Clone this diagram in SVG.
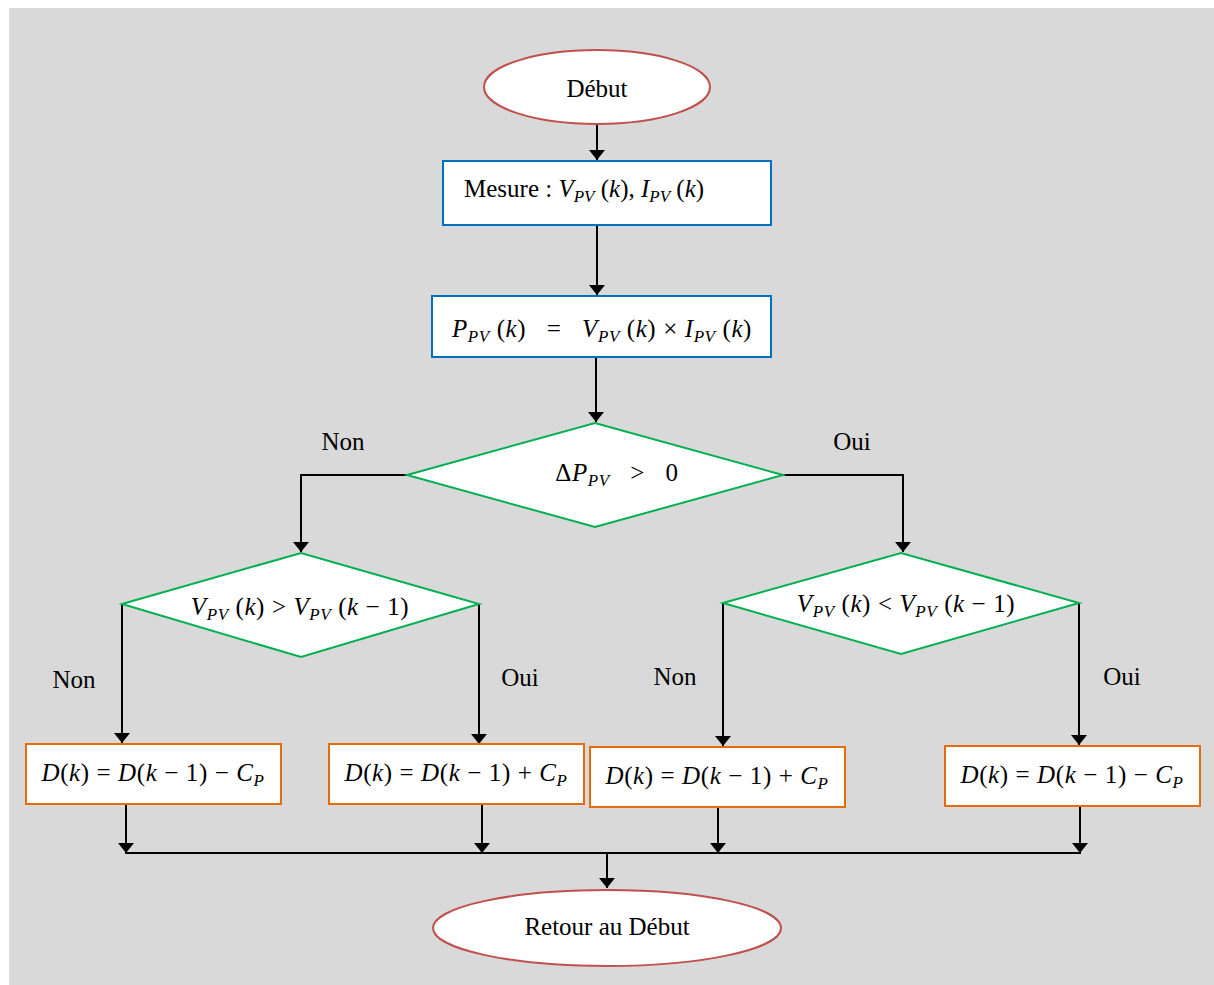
<svg xmlns="http://www.w3.org/2000/svg" width="1214" height="985" viewBox="0 0 1214 985">
<style>
.bg{fill:#d9d9d9}
.term{fill:#fff;stroke:#c0504d;stroke-width:2}
.proc{fill:#fff;stroke:#0070c0;stroke-width:2}
.dec{fill:#fff;stroke:#00b050;stroke-width:2}
.act{fill:#fff;stroke:#e46c0a;stroke-width:2}
.ln{fill:none;stroke:#000;stroke-width:2}
.t{font-family:"Liberation Serif","Times New Roman",serif;font-size:25px;fill:#000}
.m{font-family:"Liberation Serif","Times New Roman",serif;font-size:25px;fill:#000;letter-spacing:0.6px;white-space:pre}
.i{font-style:italic}
.s{font-style:italic;font-size:17px}
</style>
<defs>
<marker id="ah" viewBox="0 0 10 16" refX="10" refY="8" markerWidth="10" markerHeight="16" markerUnits="userSpaceOnUse" orient="auto">
<path d="M0,0 L10,8 L0,16 Z" fill="#000"/>
</marker>
</defs>
<rect class="bg" x="9" y="8" width="1205" height="977"/>

<g id="connectors">
<line class="ln" x1="597" y1="124" x2="597" y2="160" marker-end="url(#ah)"/>
<line class="ln" x1="597" y1="225" x2="597" y2="295" marker-end="url(#ah)"/>
<line class="ln" x1="596" y1="357" x2="596" y2="422" marker-end="url(#ah)"/>
<polyline class="ln" points="407,475 301,475 301,552" marker-end="url(#ah)"/>
<polyline class="ln" points="783,475 903,475 903,552" marker-end="url(#ah)"/>
<line class="ln" x1="122" y1="604" x2="122" y2="743" marker-end="url(#ah)"/>
<line class="ln" x1="479" y1="604" x2="479" y2="744" marker-end="url(#ah)"/>
<line class="ln" x1="723" y1="603" x2="723" y2="746" marker-end="url(#ah)"/>
<line class="ln" x1="1079" y1="603" x2="1079" y2="745" marker-end="url(#ah)"/>
<line class="ln" x1="126" y1="804" x2="126" y2="853" marker-end="url(#ah)"/>
<line class="ln" x1="482" y1="804" x2="482" y2="853" marker-end="url(#ah)"/>
<line class="ln" x1="718" y1="807" x2="718" y2="853" marker-end="url(#ah)"/>
<line class="ln" x1="1080" y1="806" x2="1080" y2="853" marker-end="url(#ah)"/>
<line class="ln" x1="125" y1="853" x2="1081" y2="853"/>
<line class="ln" x1="607" y1="853" x2="607" y2="888" marker-end="url(#ah)"/>
<text class="t" x="343" y="450" text-anchor="middle">Non</text>
<text class="t" x="852" y="450" text-anchor="middle">Oui</text>
<text class="t" x="74" y="688" text-anchor="middle">Non</text>
<text class="t" x="520" y="686" text-anchor="middle">Oui</text>
<text class="t" x="675" y="685" text-anchor="middle">Non</text>
<text class="t" x="1122" y="685" text-anchor="middle">Oui</text>
</g>

<g id="debut">
<ellipse class="term" cx="597" cy="87" rx="113" ry="37"/>
<text class="t" x="597" y="97" text-anchor="middle">Début</text>
</g>

<g id="mesure">
<rect class="proc" x="443" y="161" width="328" height="64"/>
<text class="m" x="464" y="197" xml:space="preserve" style="letter-spacing:0">Mesure : <tspan class="i">V</tspan><tspan class="s" dy="5">PV</tspan><tspan dy="-5"> (</tspan><tspan class="i">k</tspan>), <tspan class="i">I</tspan><tspan class="s" dy="5">PV</tspan><tspan dy="-5"> (</tspan><tspan class="i">k</tspan>)</text>
</g>

<g id="puissance">
<rect class="proc" x="432" y="296" width="339" height="61"/>
<text class="m" x="602" y="337" text-anchor="middle" xml:space="preserve"><tspan class="i">P</tspan><tspan class="s" dy="5">PV</tspan><tspan dy="-5"> (</tspan><tspan class="i">k</tspan>)   =   <tspan class="i">V</tspan><tspan class="s" dy="5">PV</tspan><tspan dy="-5"> (</tspan><tspan class="i">k</tspan>) × <tspan class="i">I</tspan><tspan class="s" dy="5">PV</tspan><tspan dy="-5"> (</tspan><tspan class="i">k</tspan>)</text>
</g>

<g id="dp">
<polygon class="dec" points="407,475 595,423 783,475 595,527"/>
<text class="m" x="617" y="481" text-anchor="middle" xml:space="preserve">Δ<tspan class="i">P</tspan><tspan class="s" dy="5">PV</tspan><tspan dy="-5">   &gt;   0</tspan></text>
</g>

<g id="dv1">
<polygon class="dec" points="122,604 301,553 479,604 301,657"/>
<text class="m" x="300" y="615" text-anchor="middle" xml:space="preserve"><tspan class="i">V</tspan><tspan class="s" dy="5">PV</tspan><tspan dy="-5"> (</tspan><tspan class="i">k</tspan>) &gt; <tspan class="i">V</tspan><tspan class="s" dy="5">PV</tspan><tspan dy="-5"> (</tspan><tspan class="i">k</tspan> − 1)</text>
</g>

<g id="dv2">
<polygon class="dec" points="723,603 901,553 1079,603 901,654"/>
<text class="m" x="906" y="612" text-anchor="middle" xml:space="preserve"><tspan class="i">V</tspan><tspan class="s" dy="5">PV</tspan><tspan dy="-5"> (</tspan><tspan class="i">k</tspan>) &lt; <tspan class="i">V</tspan><tspan class="s" dy="5">PV</tspan><tspan dy="-5"> (</tspan><tspan class="i">k</tspan> − 1)</text>
</g>

<g id="d1">
<rect class="act" x="26" y="744" width="255" height="60"/>
<text class="m" x="153" y="781" text-anchor="middle" xml:space="preserve"><tspan class="i">D</tspan>(<tspan class="i">k</tspan>) = <tspan class="i">D</tspan>(<tspan class="i">k</tspan> − 1) − <tspan class="i">C</tspan><tspan class="s" dy="5">P</tspan></text>
</g>

<g id="d2">
<rect class="act" x="329" y="744" width="255" height="60"/>
<text class="m" x="456" y="781" text-anchor="middle" xml:space="preserve"><tspan class="i">D</tspan>(<tspan class="i">k</tspan>) = <tspan class="i">D</tspan>(<tspan class="i">k</tspan> − 1) + <tspan class="i">C</tspan><tspan class="s" dy="5">P</tspan></text>
</g>

<g id="d3">
<rect class="act" x="590" y="747" width="255" height="60"/>
<text class="m" x="717" y="784" text-anchor="middle" xml:space="preserve"><tspan class="i">D</tspan>(<tspan class="i">k</tspan>) = <tspan class="i">D</tspan>(<tspan class="i">k</tspan> − 1) + <tspan class="i">C</tspan><tspan class="s" dy="5">P</tspan></text>
</g>

<g id="d4">
<rect class="act" x="945" y="746" width="255" height="60"/>
<text class="m" x="1072" y="783" text-anchor="middle" xml:space="preserve"><tspan class="i">D</tspan>(<tspan class="i">k</tspan>) = <tspan class="i">D</tspan>(<tspan class="i">k</tspan> − 1) − <tspan class="i">C</tspan><tspan class="s" dy="5">P</tspan></text>
</g>

<g id="retour">
<ellipse class="term" cx="607" cy="928" rx="174" ry="38"/>
<text class="t" x="607" y="935" text-anchor="middle">Retour au Début</text>
</g>
</svg>
